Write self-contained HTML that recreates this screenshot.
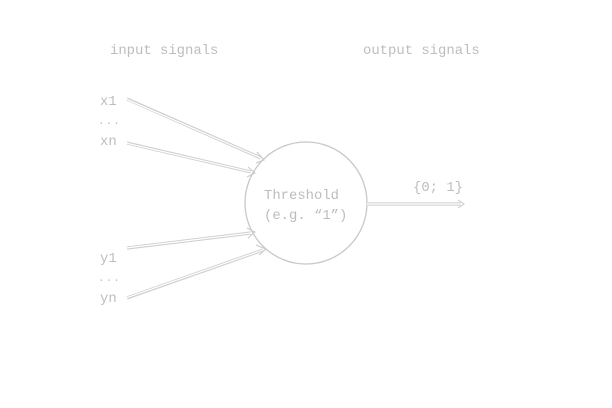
<!DOCTYPE html>
<html><head><meta charset="utf-8"><style>
html,body{margin:0;padding:0;background:#fff;}
svg{display:block;}
text{font-family:"Liberation Mono",monospace;font-size:13.9px;fill:#bdbdbd;}
</style></head><body>
<svg width="612" height="408" viewBox="0 0 612 408" xmlns="http://www.w3.org/2000/svg">
<text x="110" y="54">input signals</text>
<text x="363" y="54">output signals</text>
<text x="100" y="105">x1</text>
<text x="98" y="124" style="font-size:11px;letter-spacing:1px">...</text>
<text x="100" y="145">xn</text>
<text x="100" y="262">y1</text>
<text x="98" y="281" style="font-size:11px;letter-spacing:1px">...</text>
<text x="100" y="302">yn</text>
<circle cx="306" cy="203" r="61" fill="none" stroke="#c8c8c8" stroke-width="1.3"/>
<text x="264" y="199">Threshold</text>
<text x="264" y="219">(e.g. “1”)</text>
<text x="413" y="191">{0; 1}</text>
<g stroke-linecap="butt" fill="none">
<g stroke="#cfcfcf" stroke-width="3.2">
<line x1="127" y1="99" x2="261" y2="158"/>
<line x1="127" y1="143" x2="251" y2="172"/>
<line x1="127" y1="248" x2="251" y2="233"/>
<line x1="127" y1="298" x2="263" y2="250"/>
<line x1="368" y1="204" x2="461" y2="204"/>
</g>
<g stroke="#fff" stroke-width="1.2">
<line x1="126" y1="99" x2="262" y2="158.4"/>
<line x1="126" y1="143" x2="252" y2="172.2"/>
<line x1="126" y1="248" x2="252" y2="232.9"/>
<line x1="126" y1="298" x2="264" y2="249.6"/>
<line x1="367" y1="204" x2="462" y2="204"/>
</g>
<g stroke="#c8c8c8" stroke-width="1" stroke-linejoin="miter">
<polyline points="257,152 264,160 256,163"/>
<polyline points="248,167 255,173 247,177"/>
<polyline points="247,228 255,232 248,238"/>
<polyline points="256,245 266,249 259,255"/>
<polyline points="458,200 464,204 458,208"/>
</g>
</g>
</svg>
</body></html>
